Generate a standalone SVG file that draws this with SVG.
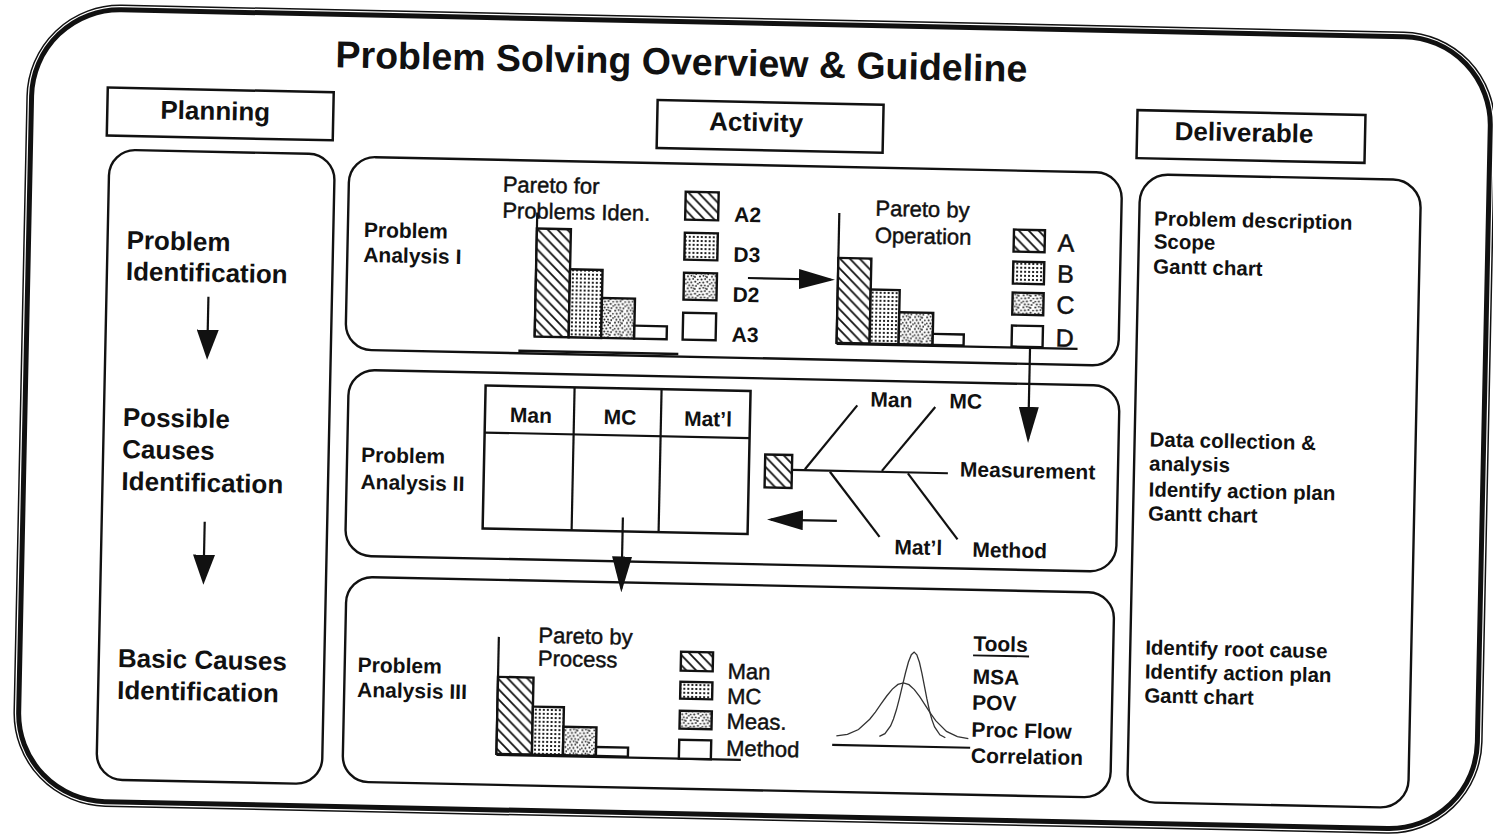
<svg xmlns="http://www.w3.org/2000/svg" width="1493" height="837" viewBox="0 0 1493 837">
<style>
  .t{font-family:"Liberation Sans",Arial,Helvetica,sans-serif;fill:#111}
  .b{font-weight:bold}
  .h{font-size:26px;font-weight:bold}
  .lbl{font-size:21px;font-weight:bold}
  .reg{font-size:22px;stroke:#111;stroke-width:0.45}
  .big{font-size:25px;stroke:#111;stroke-width:0.5}
  .del{font-size:20.5px;font-weight:bold}
  .box{fill:#fff;stroke:#111;stroke-width:2.5}
  .panel{fill:none;stroke:#111;stroke-width:2.4}
  .ln{fill:none;stroke:#111;stroke-width:2.2}
  .bar{stroke:#111;stroke-width:2.4}
  .curve{fill:none;stroke:#333;stroke-width:1.3}
  .conn{fill:none;stroke:#111;stroke-width:2.2}
</style>
<defs>
  <pattern id="hatch" patternUnits="userSpaceOnUse" width="10" height="10">
    <rect width="10" height="10" fill="#fff"/>
    <path d="M-1,-1 L11,11 M-1,9 L1,11 M9,-1 L11,1" stroke="#111" stroke-width="1.8"/>
  </pattern>
  <pattern id="dots" patternUnits="userSpaceOnUse" width="4" height="4">
    <rect width="4" height="4" fill="#fff"/>
    <rect x="1" y="1" width="2" height="2" fill="#222"/>
  </pattern>
  <pattern id="stipple" patternUnits="userSpaceOnUse" width="12" height="12">
    <rect width="12" height="12" fill="#fff"/>
    <g fill="#222">
      <circle cx="1" cy="1.5" r="1"/><circle cx="4.5" cy="0.8" r="0.9"/><circle cx="8" cy="2" r="1"/>
      <circle cx="10.8" cy="4.6" r="0.9"/><circle cx="2.6" cy="4.5" r="1"/><circle cx="6.2" cy="4" r="0.9"/>
      <circle cx="0.8" cy="7.6" r="0.9"/><circle cx="4.4" cy="7.4" r="1"/><circle cx="8.4" cy="6.8" r="1"/>
      <circle cx="11" cy="8.8" r="0.9"/><circle cx="2.4" cy="10.6" r="1"/><circle cx="6" cy="10.4" r="0.9"/>
      <circle cx="9.2" cy="11" r="0.9"/><circle cx="6.8" cy="1.2" r="0.7"/>
    </g>
  </pattern>
  <marker id="ah" viewBox="0 0 36 20" refX="32" refY="10" markerWidth="36" markerHeight="20" markerUnits="userSpaceOnUse" orient="auto">
    <path d="M0,0 L36,10 L0,20 Z" fill="#111"/>
  </marker>
  <marker id="ahs" viewBox="0 0 30 22" refX="26" refY="11" markerWidth="30" markerHeight="22" markerUnits="userSpaceOnUse" orient="auto">
    <path d="M0,0 L30,11 L0,22 Z" fill="#111"/>
  </marker>
</defs>

<rect width="1493" height="837" fill="#fff"/>

<g transform="rotate(1.2 746 418)">
  <!-- outer double border -->
  <g id="frame">
    <rect x="20.5" y="18.5" width="1468" height="801" rx="93" fill="none" stroke="#111" stroke-width="1.5"/>
    <rect x="25" y="23" width="1459" height="792" rx="88" fill="none" stroke="#111" stroke-width="5"/>
  </g>

  <text id="title" class="t b" x="674" y="76" font-size="37.5" text-anchor="middle">Problem Solving Overview &amp; Guideline</text>

  <!-- column headers -->
  <g id="planning-header">
    <rect class="box" x="101" y="101" width="226" height="48"/>
    <text class="t h" x="209" y="131" text-anchor="middle">Planning</text>
  </g>
  <g id="activity-header">
    <rect class="box" x="651" y="102" width="226" height="48"/>
    <text class="t h" x="750" y="131" text-anchor="middle">Activity</text>
  </g>
  <g id="deliverable-header">
    <rect class="box" x="1131" y="102" width="228" height="48"/>
    <text class="t h" x="1238" y="131" text-anchor="middle">Deliverable</text>
  </g>

  <!-- planning steps -->
  <g id="planning-panel">
    <rect class="panel" x="104" y="163" width="225.5" height="630" rx="26"/>
    <text class="t h" x="123" y="262">Problem</text>
    <text class="t h" x="123" y="293">Identification</text>
    <text class="t h" x="123" y="439">Possible</text>
    <text class="t h" x="123" y="471">Causes</text>
    <text class="t h" x="123" y="503">Identification</text>
    <text class="t h" x="123" y="680">Basic Causes</text>
    <text class="t h" x="123" y="712">Identification</text>
  </g>

  <!-- activity row 1: two pareto charts -->
  <g id="analysis-1">
    <rect class="panel" x="344" y="165" width="773" height="193" rx="26"/>
    <text class="t lbl" x="360" y="245">Problem</text>
    <text class="t lbl" x="360" y="270">Analysis I</text>

    <text class="t reg" x="498" y="197">Pareto for</text>
    <text class="t reg" x="498" y="223">Problems Iden.</text>
    <line class="ln" x1="533" y1="217" x2="533" y2="341"/>
    <line x1="517" y1="355.5" x2="677" y2="355.5" stroke="#111" stroke-width="2.6"/>
    <rect class="bar" x="533" y="233" width="34" height="108" fill="url(#hatch)"/>
    <rect class="bar" x="567" y="273" width="32.5" height="68" fill="url(#dots)"/>
    <rect class="bar" x="599.5" y="301" width="33" height="40" fill="url(#stipple)"/>
    <rect class="bar" x="632.5" y="328" width="32.5" height="13" fill="#fff"/>

    <rect class="bar" x="681" y="193" width="33" height="28" fill="url(#hatch)"/>
    <rect class="bar" x="681" y="234" width="33" height="27" fill="url(#dots)"/>
    <rect class="bar" x="681" y="274" width="33" height="27" fill="url(#stipple)"/>
    <rect class="bar" x="681" y="314" width="33" height="27" fill="#fff"/>
    <text class="t lbl" x="730" y="222">A2</text>
    <text class="t lbl" x="730" y="262">D3</text>
    <text class="t lbl" x="730" y="302">D2</text>
    <text class="t lbl" x="730" y="342">A3</text>

    <text class="t reg" x="871" y="213">Pareto by</text>
    <text class="t reg" x="871" y="240">Operation</text>
    <line class="ln" x1="835" y1="211" x2="835" y2="342"/>
    <line class="ln" x1="835" y1="342" x2="1076" y2="342"/>
    <rect class="bar" x="835" y="256" width="33" height="85" fill="url(#hatch)"/>
    <rect class="bar" x="868" y="287" width="29" height="54" fill="url(#dots)"/>
    <rect class="bar" x="897" y="309" width="34" height="32" fill="url(#stipple)"/>
    <rect class="bar" x="931" y="330" width="31" height="11" fill="#fff"/>

    <rect class="bar" x="1010" y="224" width="31" height="22" fill="url(#hatch)"/>
    <rect class="bar" x="1010" y="256" width="31" height="22" fill="url(#dots)"/>
    <rect class="bar" x="1010" y="287" width="31" height="22" fill="url(#stipple)"/>
    <rect class="bar" x="1010" y="320" width="31" height="21" fill="#fff"/>
    <text class="t big" x="1054" y="245">A</text>
    <text class="t big" x="1054" y="276">B</text>
    <text class="t big" x="1054" y="307">C</text>
    <text class="t big" x="1054" y="340">D</text>
  </g>

  <!-- activity row 2: cause table and fishbone -->
  <g id="analysis-2">
    <rect class="panel" x="348" y="378" width="771" height="186" rx="26"/>
    <text class="t lbl" x="362" y="470">Problem</text>
    <text class="t lbl" x="362" y="497">Analysis II</text>

    <rect class="box" x="485" y="391" width="265" height="143" fill="none"/>
    <line class="ln" x1="485" y1="438" x2="750" y2="438"/>
    <line class="ln" x1="574" y1="391" x2="574" y2="534"/>
    <line class="ln" x1="661" y1="391" x2="661" y2="534"/>
    <text class="t lbl" x="531" y="427" text-anchor="middle">Man</text>
    <text class="t lbl" x="620" y="427" text-anchor="middle">MC</text>
    <text class="t lbl" x="708" y="427" text-anchor="middle">Mat’l</text>

    <rect class="bar" x="766" y="454" width="27" height="33" fill="url(#hatch)"/>
    <line class="ln" x1="793" y1="469" x2="949" y2="469"/>
    <line class="ln" x1="806" y1="468" x2="857" y2="403"/>
    <line class="ln" x1="883" y1="468" x2="935" y2="403"/>
    <line class="ln" x1="831" y1="470" x2="882" y2="534"/>
    <line class="ln" x1="909" y1="470" x2="960" y2="535"/>
    <text class="t lbl" x="870" y="404">Man</text>
    <text class="t lbl" x="949" y="404">MC</text>
    <text class="t lbl" x="961" y="472">Measurement</text>
    <text class="t lbl" x="897" y="551">Mat’l</text>
    <text class="t lbl" x="975" y="552">Method</text>
  </g>

  <!-- activity row 3: process pareto and tools -->
  <g id="analysis-3">
    <rect class="panel" x="350" y="585" width="768" height="205" rx="26"/>
    <text class="t lbl" x="363" y="680">Problem</text>
    <text class="t lbl" x="363" y="705">Analysis III</text>

    <text class="t reg" x="543" y="647">Pareto by</text>
    <text class="t reg" x="543" y="670">Process</text>
    <line class="ln" x1="503.5" y1="642" x2="503.5" y2="760"/>
    <line class="ln" x1="503.5" y1="760" x2="748" y2="760"/>
    <rect class="bar" x="503.5" y="682" width="35.5" height="77" fill="url(#hatch)"/>
    <rect class="bar" x="539" y="711" width="31" height="48" fill="url(#dots)"/>
    <rect class="bar" x="570" y="730.5" width="33" height="28.5" fill="url(#stipple)"/>
    <rect class="bar" x="603" y="750" width="32" height="9" fill="#fff"/>

    <rect class="bar" x="686" y="653" width="32" height="19" fill="url(#hatch)"/>
    <rect class="bar" x="686" y="683" width="32" height="17" fill="url(#dots)"/>
    <rect class="bar" x="686" y="712" width="32" height="18" fill="url(#stipple)"/>
    <rect class="bar" x="686" y="741" width="32" height="19" fill="#fff"/>
    <text class="t reg" x="733" y="679">Man</text>
    <text class="t reg" x="733" y="704">MC</text>
    <text class="t reg" x="733" y="729">Meas.</text>
    <text class="t reg" x="733" y="756">Method</text>

    <line class="ln" x1="839" y1="743" x2="977" y2="743"/>
    <polyline class="curve" points="886,733.5 891.5,730.7 897,722.9 899.75,715.9 902.5,706.6 905.25,695.1 908,682.3 910.75,669.6 913.5,658.6 916.25,651.2 919,648.5 921.75,651.2 924.5,658.6 927.25,669.6 930,682.3 932.75,695.1 935.5,706.6 938.25,715.9 941,722.9 946.5,730.7 952,733.5"/>
    <polyline class="curve" points="843,733.9 854,732.1 865,727.1 876,716.6 881.5,709.3 887,701.1 892.5,693 898,686 903.5,681.2 909,679.5 914.5,681.2 920,686 925.5,693 931,701.1 936.5,709.3 942,716.6 953,727.1 964,732.1 975,733.9"/>

    <text class="t lbl" x="978" y="646">Tools</text>
    <line x1="978" y1="650.5" x2="1034" y2="650.5" stroke="#111" stroke-width="1.8"/>
    <text class="t lbl" x="978" y="679">MSA</text>
    <text class="t lbl" x="978" y="705">POV</text>
    <text class="t lbl" x="978" y="732">Proc Flow</text>
    <text class="t lbl" x="978" y="758">Correlation</text>
  </g>

  <!-- deliverables -->
  <g id="deliverable-panel">
    <rect class="panel" x="1135" y="166" width="281" height="628" rx="28"/>
    <text class="t del" x="1150" y="217">Problem description</text>
    <text class="t del" x="1150" y="240">Scope</text>
    <text class="t del" x="1150" y="265">Gantt chart</text>
    <text class="t del" x="1150" y="438">Data collection &amp;</text>
    <text class="t del" x="1150" y="462">analysis</text>
    <text class="t del" x="1150" y="488">Identify action plan</text>
    <text class="t del" x="1150" y="512">Gantt chart</text>
    <text class="t del" x="1150" y="646">Identify root cause</text>
    <text class="t del" x="1150" y="670">Identify action plan</text>
    <text class="t del" x="1150" y="694">Gantt chart</text>
  </g>

  <!-- flow arrows -->
  <g id="connectors">
    <line class="conn" x1="206" y1="308" x2="206" y2="367" marker-end="url(#ahs)"/>
    <line class="conn" x1="207" y1="533" x2="207" y2="592" marker-end="url(#ahs)"/>
    <line class="conn" x1="745" y1="278" x2="828" y2="278" marker-end="url(#ah)"/>
    <line class="conn" x1="1028.5" y1="342" x2="1028.5" y2="433" marker-end="url(#ah)"/>
    <line class="conn" x1="625" y1="520" x2="625" y2="591" marker-end="url(#ah)"/>
    <line class="conn" x1="839" y1="519" x2="773" y2="519" marker-end="url(#ah)"/>
  </g>
</g>
</svg>
